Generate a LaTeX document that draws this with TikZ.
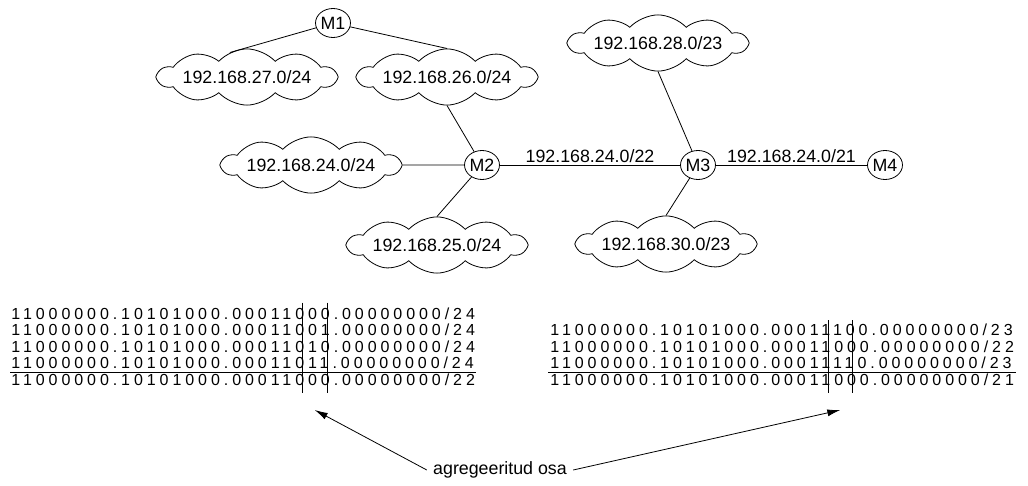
\documentclass[tikz,border=0pt]{standalone}
\usepackage{fontspec}
\setmainfont{Liberation Sans}
\newfontfamily\bitfont[LetterSpace=24.6]{Liberation Sans}
\usetikzlibrary{shapes.geometric,shapes.symbols,arrows.meta,positioning}

\newlength\bitw
\newcommand\bitsize{\bitfont\fontsize{16}{18}\selectfont}
% x of the cut behind a prefix of a bit string
\newcommand\bitcut[2]{\settowidth\bitw{\bitsize #2}\pgfmathsetmacro#1{\bitw-1.9}}

\begin{document}
\bitcut\cutLa{11000000.10101000.000110}%
\bitcut\cutLb{11000000.10101000.00011000}%
\bitcut\cutRa{11000000.10101000.00011}%
\bitcut\cutRb{11000000.10101000.0001110}%
\begin{tikzpicture}[x=1pt,y=-1pt,line width=0.8pt,
	lbl/.style={font=\fontsize{17.8}{20}\selectfont},
	router/.style={draw,ellipse,minimum width=33pt,minimum height=29pt,inner sep=0pt,lbl},
	net/.style={draw,cloud,cloud puffs=10,cloud puff arc=95,aspect=5.5,minimum width=178pt,minimum height=42pt,inner sep=0pt,lbl},
	bits/.style={anchor=west,inner sep=0pt,font=\bitsize},
	>={Latex[length=13pt,width=7pt]}]
	\useasboundingbox (0,0) rectangle (1028,485);

	% routers
	\node[router] (M1) at (333,23) {M1};
	\node[router] (M2) at (482,165) {M2};
	\node[router] (M3) at (698,165) {M3};
	\node[router] (M4) at (885,165) {M4};

	% networks
	\node[net] (N27) at (247,77) {192.168.27.0/24};
	\node[net] (N26) at (447,77) {192.168.26.0/24};
	\node[net] (N28) at (658,43) {192.168.28.0/23};
	\node[net] (N24) at (311,165) {192.168.24.0/24};
	\node[net] (N25) at (437,245) {192.168.25.0/24};
	\node[net] (N30) at (666,244) {192.168.30.0/23};

	\draw (M1) -- (N27.125);
	\draw (M1) -- (N26.north);
	\draw (N26.south) -- (M2);
	\draw (N24) -- (M2);
	\draw (M2) -- (N25.north);
	\draw (N28.south) -- (M3);
	\draw (M3) -- (N30.north);
	\draw (M2) -- node[lbl,above,inner sep=2pt]{192.168.24.0/22} (M3);
	\draw (M3) -- node[lbl,above,inner sep=2pt]{192.168.24.0/21} (M4);

	% aggregation, left
	\foreach \b [count=\n] in
		{11000000.10101000.00011000.00000000/24,
		 11000000.10101000.00011001.00000000/24,
		 11000000.10101000.00011010.00000000/24,
		 11000000.10101000.00011011.00000000/24,
		 11000000.10101000.00011000.00000000/22}
		\node[bits] (L\n) at (11,297+16.5*\n) {\b};
	\draw (L4.south west) ++(-1,3) -- ++(466,0);
	\draw (L1.west) ++(\cutLa,-11) -- ++(0,90);
	\draw (L1.west) ++(\cutLb,-11) -- ++(0,90);

	% aggregation, right
	\foreach \b [count=\n] in
		{11000000.10101000.00011100.00000000/23,
		 11000000.10101000.00011000.00000000/22,
		 11000000.10101000.00011110.00000000/23,
		 11000000.10101000.00011000.00000000/21}
		\node[bits] (R\n) at (550,313.5+16.5*\n) {\b};
	\draw (R3.south west) ++(-2,3) -- ++(468,0);
	\draw (R1.west) ++(\cutRa,-10) -- ++(0,73);
	\draw (R1.west) ++(\cutRb,-10) -- ++(0,73);

	\coordinate (tipL) at (11+\cutLa/2+\cutLb/2,410);
	\coordinate (tipR) at (550+\cutRa/2+\cutRb/2,410);
	\node[lbl,inner sep=6pt] (agg) at (500,470) {agregeeritud osa};
	\draw[->] (agg.west) -- (tipL);
	\draw[->] (agg.east) -- (tipR);
\end{tikzpicture}
\end{document}
